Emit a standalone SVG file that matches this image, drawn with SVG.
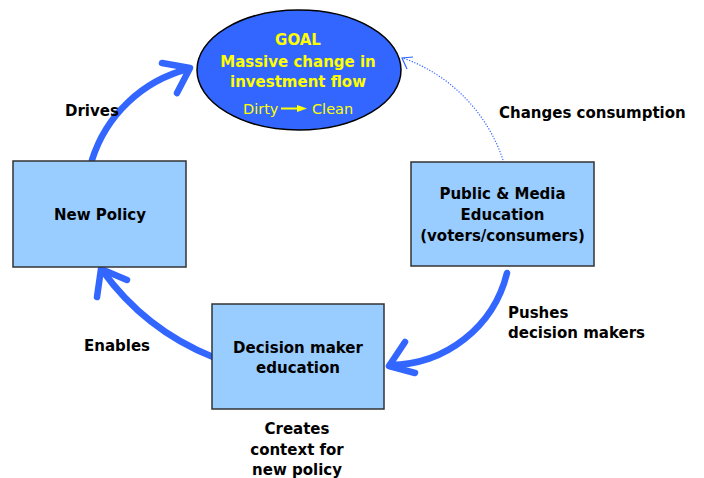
<svg xmlns="http://www.w3.org/2000/svg" width="704" height="478" viewBox="0 0 704 478">
<style>
.lbl{font-family:"DejaVu Sans",Verdana,sans-serif;font-weight:bold;font-size:15px;fill:#000}
.mid{text-anchor:middle}
.goal{font-family:"DejaVu Sans",Verdana,sans-serif;font-weight:bold;font-size:15px;fill:#FFFF00;text-anchor:middle}
.goaln{font-family:"DejaVu Sans",Verdana,sans-serif;font-size:14.5px;fill:#FFFF00}
.box{fill:#99CCFF;stroke:#333;stroke-width:1.5}
.big{fill:none;stroke:#3366FF;stroke-width:6.5;stroke-linecap:round;stroke-linejoin:round}
.dot{fill:none;stroke:#3366FF;stroke-width:1.2;stroke-dasharray:1.2 1.6}
</style>
<rect width="704" height="478" fill="#fff"/>
<g id="connectors">
<path class="big" d="M92 160 A136 136 0 0 1 188 69"/>
<path class="big" d="M162 63 L190 68 L177 93"/>
<path class="big" d="M213 357 A252 252 0 0 1 102 270"/>
<path class="big" d="M97 297 L101 269 L127 280"/>
<path class="big" d="M507 273 A121 121 0 0 1 390 365"/>
<path class="big" d="M405 342 L389 366 L415 373"/>
<path class="dot" d="M503 160 A163 163 0 0 0 403 58"/>
<path fill="none" stroke="#3366FF" stroke-width="1.2" d="M407 69 L402 58 L413 57"/>
</g>
<g id="goal">
<ellipse cx="299" cy="70" rx="102" ry="60" fill="#3366FF" stroke="#000" stroke-width="1.5"/>
<text class="goal" x="298" y="45">GOAL</text>
<text class="goal" x="298" y="67">Massive change in</text>
<text class="goal" x="298" y="87">investment flow</text>
<text class="goaln" x="243" y="114">Dirty</text>
<line x1="281" y1="108.5" x2="299" y2="108.5" stroke="#FFFF00" stroke-width="2"/>
<path d="M297 105 L307 108.5 L297 112 Z" fill="#FFFF00"/>
<text class="goaln" x="312" y="114">Clean</text>
</g>
<g id="new-policy">
<rect class="box" x="13" y="161" width="173" height="106"/>
<text class="lbl mid" x="100" y="220">New Policy</text>
</g>
<g id="public-media">
<rect class="box" x="411" y="162" width="183" height="104"/>
<text class="lbl mid" x="502.5" y="199">Public &amp; Media</text>
<text class="lbl mid" x="502.5" y="220">Education</text>
<text class="lbl mid" x="502.5" y="241">(voters/consumers)</text>
</g>
<g id="decision-maker">
<rect class="box" x="212" y="304" width="172" height="105"/>
<text class="lbl mid" x="298" y="353">Decision maker</text>
<text class="lbl mid" x="298" y="373">education</text>
</g>
<g id="labels">
<text class="lbl" x="65" y="116">Drives</text>
<text class="lbl" x="499" y="118">Changes consumption</text>
<text class="lbl" x="508" y="318">Pushes</text>
<text class="lbl" x="508" y="338">decision makers</text>
<text class="lbl" x="84" y="351">Enables</text>
<text class="lbl mid" x="297" y="434">Creates</text>
<text class="lbl mid" x="297" y="455">context for</text>
<text class="lbl mid" x="297" y="475">new policy</text>
</g>
</svg>
